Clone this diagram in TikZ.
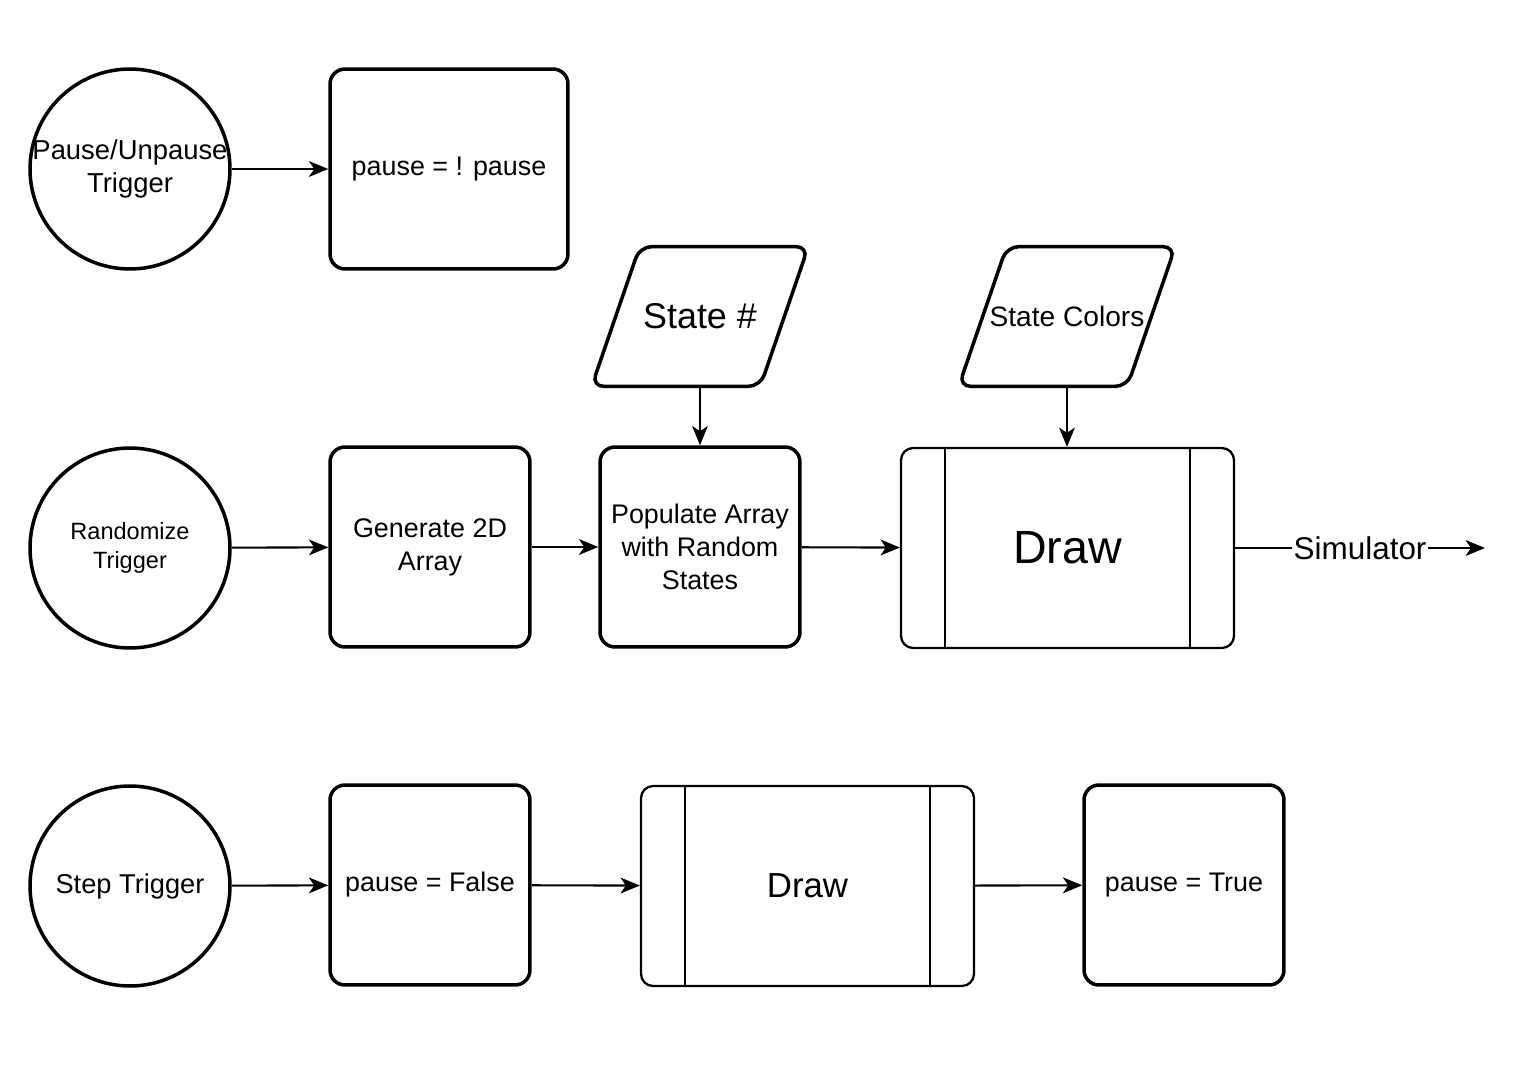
\documentclass[tikz,border=0pt]{standalone}
\usepackage{fontspec}
\setmainfont{Liberation Sans}
\usetikzlibrary{arrows.meta}
\begin{document}
\begin{tikzpicture}[x=0.02cm,y=-0.02cm,
    trig/.style={draw,circle,line width=2pt,minimum size=4cm,inner sep=0pt},
    proc/.style={draw,rectangle,rounded corners=0.3cm,line width=2pt,minimum width=4cm,minimum height=4cm,align=center,font=\fontsize{15.3}{18.7}\selectfont},
    sub/.style={draw,rectangle,rounded corners=0.24cm,line width=1.3pt,minimum width=6.66cm,minimum height=4cm},
    data/.style={rectangle,minimum width=4.32cm,minimum height=2.78cm,inner sep=0pt},
    slant/.style={rounded corners=0.24cm,line width=2pt},
    flow/.style={-{Stealth[length=11pt,width=9pt,inset=3pt]},line width=1.2pt}]
    \useasboundingbox (0,0) rectangle (1516,1076);
    % first row
    \node[trig,label={[align=center,font=\fontsize{15.6}{18.7}\selectfont]center:{Pause/Unpause\\Trigger}}] (pause) at (130,169) {};
    \node[proc,minimum width=4.76cm] (toggle) at (449,169) {pause = ! pause};
    \draw[flow] (pause) -- (toggle);
    % second row
    \node[data,font=\fontsize{20.4}{24}\selectfont] (nstates) at (700,316.5) {State \#};
    \node[data,font=\fontsize{16}{19}\selectfont] (colors) at (1067,316.5) {State Colors};
    \foreach \n in {nstates,colors}
        \draw[slant] ([xshift=0.96cm]\n.north west) -- (\n.north east) -- ([xshift=-0.96cm]\n.south east) -- (\n.south west) -- cycle;
    \node[trig,label={[align=center,font=\fontsize{13.4}{16.4}\selectfont]center:{Randomize\\Trigger}}] (rand) at (130,548) {};
    \node[proc] (gen) at (430,547) {Generate 2D\\Array};
    \node[proc] (pop) at (700,547) {Populate Array\\with Random\\States};
    \node[sub,font=\fontsize{26.5}{30}\selectfont] (drawa) at (1067.5,548) {Draw};
    \draw[line width=1.3pt] ([xshift=0.9cm]drawa.north west) -- ([xshift=0.9cm]drawa.south west)
        ([xshift=-0.9cm]drawa.north east) -- ([xshift=-0.9cm]drawa.south east);
    \coordinate (simend) at (1485,548);
    \draw[flow] (rand) -- (gen);
    \draw[flow] (gen) -- (pop);
    \draw[flow] (pop) -- (drawa);
    \draw[flow] (nstates) -- (pop);
    \draw[flow] (colors) -- (colors|-drawa.north);
    \draw[flow] (drawa) -- node[fill=white,inner sep=1pt,font=\fontsize{17.9}{21}\selectfont] (sim) {Simulator} (simend);
    % third row
    \node[trig,label={[font=\fontsize{15.5}{18.7}\selectfont]center:Step Trigger}] (step) at (130,886) {};
    \node[proc] (unp) at (430,885) {pause = False};
    \node[sub,font=\fontsize{19.8}{24}\selectfont] (drawb) at (807.5,886) {Draw};
    \draw[line width=1.3pt] ([xshift=0.9cm]drawb.north west) -- ([xshift=0.9cm]drawb.south west)
        ([xshift=-0.9cm]drawb.north east) -- ([xshift=-0.9cm]drawb.south east);
    \node[proc] (rep) at (1184,885) {pause = True};
    \draw[flow] (step) -- (unp);
    \draw[flow] (unp) -- (drawb);
    \draw[flow] (drawb) -- (rep);
\end{tikzpicture}
\end{document}
